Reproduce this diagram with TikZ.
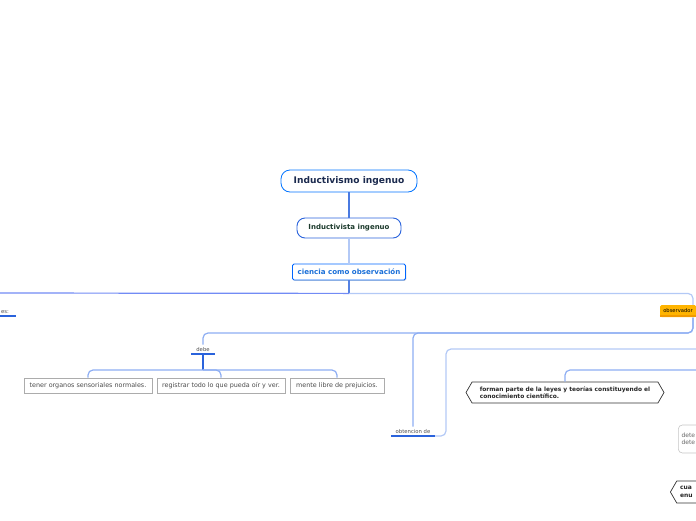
\documentclass[tikz,border=0pt]{standalone}
\usepackage{fontspec}
\setmainfont{DejaVu Sans}
\usetikzlibrary{shapes.symbols,shadows}
\definecolor{linkblue}{HTML}{8EAEF3}
\definecolor{paleblue}{HTML}{B3C9F6}
\definecolor{deepblue}{HTML}{2A63DC}
\definecolor{navy}{HTML}{1B2A4E}
\definecolor{darkgreen}{HTML}{1C3A2C}
\definecolor{topicblue}{HTML}{1A6FD8}
\definecolor{obsfill}{HTML}{FFB400}
\definecolor{obsline}{HTML}{F29A00}
\begin{document}
\begin{tikzpicture}[x=1pt, y=-1pt,
  conn/.style={draw=linkblue, line width=1.2pt, rounded corners=5pt},
  uline/.style={draw=deepblue, line width=1.6pt},
  tag/.style={font=\fontsize{5.3}{6}\selectfont, text=black!70, inner xsep=1pt,
    inner ysep=2.5pt},
  leafbox/.style={draw=gray!65, line width=0.6pt, fill=white, text=black!70,
    font=\fontsize{6.4}{7}\selectfont, minimum height=15pt, inner xsep=3pt}]
  \useasboundingbox (0,0) rectangle (696,520);
  \clip (0,0) rectangle (696,520);
  % Central topics
  \node[draw=blue!55!cyan, line width=0.8pt, rounded corners=9pt, fill=white,
    minimum width=136pt, minimum height=22pt, text=navy,
    font=\fontsize{9.1}{10}\bfseries] (root) at (349,181) {Inductivismo ingenuo};
  \node[draw=deepblue, line width=0.9pt, rounded corners=8pt, fill=white,
    minimum width=104pt, minimum height=20pt, text=darkgreen,
    font=\fontsize{7}{8}\bfseries] (inda) at (349,228) {Inductivista ingenuo};
  \node[draw=blue!60!cyan, line width=0.8pt, rounded corners=1.5pt, fill=white,
    drop shadow={opacity=0.35, shadow xshift=0.8pt, shadow yshift=-0.8pt},
    minimum width=113pt, minimum height=16pt, text=topicblue,
    font=\fontsize{7.1}{8}\bfseries] (cien) at (349,272) {ciencia como observación};
  \draw[draw=deepblue!85, line width=1.2pt] (root) -- (inda);
  \draw[draw=paleblue, line width=1.2pt] (inda) -- (cien);
  \draw[draw=deepblue!80, line width=1.2pt] (cien.south) -- ++(0,13) coordinate (hub);
  % Left branch
  \coordinate (lft) at (-10,293);
  \node[tag, minimum width=15pt, anchor=south west, align=left] (es) at (0,316) {es:\hspace{6pt}};
  \draw[uline] (es.south west) -- (es.south east);
  \draw[conn, draw=linkblue!80!blue] (hub) -- (lft);
  % Right branch
  \coordinate (obsr) at (693,318);
  \draw[conn, draw=paleblue] (hub) -| (obsr);
  \node[fill=obsfill, rounded corners=1.5pt, minimum width=36pt, minimum height=12pt,
    inner sep=1pt, font=\fontsize{5.2}{6}\selectfont] (obs) at (678,311) {observador};
  \draw[draw=obsline, line width=1.6pt] ([yshift=1pt]obs.south west) -- ([yshift=1pt]obs.south east);
  % debe
  \node[tag, minimum width=23pt, anchor=south] (debe) at (203,354) {debe};
  \draw[uline] (debe.south west) -- (debe.south east);
  \draw[conn] (obsr) -- ++(0,15) -| (debe.north);
  \node[leafbox, minimum width=128pt] (b1) at (88,385.5) {tener organos sensoriales normales.};
  \node[leafbox, minimum width=128pt] (b2) at (221,385.5) {registrar todo lo que pueda oír y ver.};
  \node[leafbox, minimum width=94pt] (b3) at (337,385.5) {mente libre de prejuicios.};
  \draw[uline, line width=1.2pt] (debe.south) -- ++(0,16) coordinate (debeb);
  \draw[conn] (debeb) -| (b1.north);
  \draw[conn] (debeb) -| (b2.north);
  \draw[conn] (debeb) -| (b3.north);
  % obtencion de
  \node[tag, minimum width=44pt, anchor=south] (obt) at (413,436) {obtencion de};
  \draw[conn] (obsr) -- ++(0,15) -| (obt.north);
  \draw[uline] (obt.south west) -- (obt.south east);
  \coordinate (offa) at (710,349);
  \coordinate (offb) at (710,370);
  \draw[conn, draw=paleblue] (obt.south east) -| (446,349) -- (offa);
  \node[signal, signal to=west and east, signal pointer angle=120, draw=black!80,
    line width=0.7pt, fill=white, minimum width=198pt, minimum height=21pt,
    inner xsep=3pt, align=left, text=black!85,
    font=\fontsize{5.9}{7.2}\bfseries] (forman) at (565,392.5)
    {forman parte de la leyes y teorías constituyendo el\\conocimiento científico.};
  \draw[conn] (offb) -| (forman.north);
  % cut-off topics
  \node[draw=gray!45, line width=0.6pt, rounded corners=4pt, fill=white, anchor=west,
    minimum height=28pt, text width=50pt, align=left, text=black!60,
    font=\fontsize{6}{7.5}\selectfont] (dete) at (678,439) {dete\\dete};
  \node[signal, signal to=west, signal pointer angle=120, draw=black!80,
    line width=0.7pt, fill=white, anchor=west, minimum height=22pt, text width=50pt,
    align=left, text=black!85, font=\fontsize{6}{7.5}\bfseries] (cua) at (670,492) {cua\\enu};
\end{tikzpicture}
\end{document}
